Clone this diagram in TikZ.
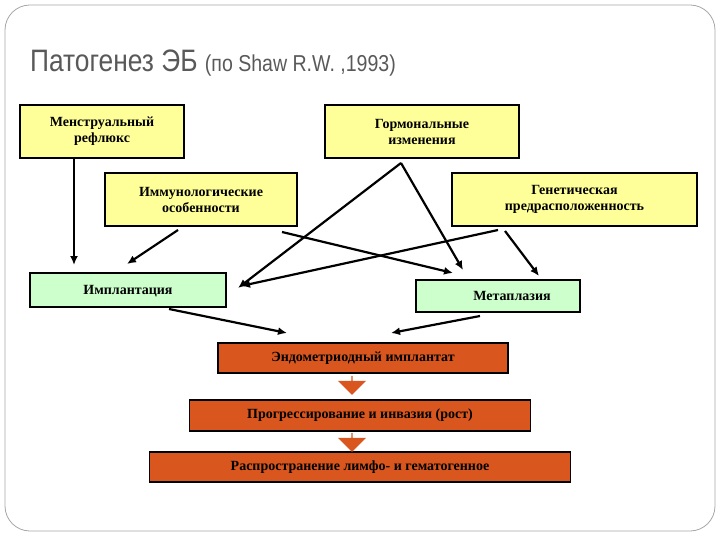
\documentclass[tikz,border=0pt]{standalone}
\usepackage{fontspec}
\setmainfont{Liberation Serif}
\newfontfamily\titlefont[FakeStretch=0.85]{Liberation Sans}
\usetikzlibrary{shapes.arrows,arrows.meta}
\definecolor{yel}{HTML}{FFFF99}
\definecolor{grn}{HTML}{CCFFCC}
\definecolor{org}{HTML}{D9561E}
\definecolor{ttl}{HTML}{595959}
\begin{document}
\begin{tikzpicture}[x=1pt,y=-1pt,
  box/.style={draw=black,line width=1.4pt,font=\bfseries\fontsize{14}{16}\selectfont,align=center,inner sep=0pt},
  ybox/.style={box,fill=yel},
  gbox/.style={box,fill=grn},
  obox/.style={box,fill=org},
  arr/.style={-{Latex[length=9pt,width=8pt]},line width=2.2pt},
  blk/.style={single arrow,draw=none,fill=org,shape border rotate=270,minimum height=19pt,minimum width=28pt,single arrow head extend=4pt,inner sep=0pt}]
\useasboundingbox (0,0) rectangle (720,540);
\draw[gray!70,line width=0.8pt,rounded corners=25pt] (5,5) rectangle (715,531);
\node[anchor=base west,text=ttl,inner sep=0pt] (title) at (30,72) {\titlefont\fontsize{31}{34}\selectfont Патогенез ЭБ \fontsize{23}{26}\selectfont(по Shaw R.W. ,1993)};
\node[ybox,minimum width=164pt,minimum height=53pt] (m) at (102,131.5) {Менструальный\\рефлюкс};
\node[ybox,minimum width=194pt,minimum height=53pt] (g) at (422,131.5) {Гормональные\\изменения};
\node[ybox,minimum width=192pt,minimum height=53pt] (i) at (201,199.5) {Иммунологические\\особенности};
\node[ybox,minimum width=245pt,minimum height=53pt] (ge) at (574.5,199.5) {Генетическая\\предрасположенность};
\node[gbox,minimum width=196pt,minimum height=34pt] (im) at (128,290) {};
\node[font=\bfseries\fontsize{14}{16}\selectfont] (imt) at (128,291) {Имплантация};
\node[gbox,minimum width=164pt,minimum height=32pt] (mt) at (498,296) {};
\node[font=\bfseries\fontsize{14}{16}\selectfont] (mtt) at (512,296) {Метаплазия};
\node[obox,minimum width=290pt,minimum height=30pt] (e) at (363,358) {Эндометриодный имплантат};
\node[obox,minimum width=341pt,minimum height=31pt] (p) at (360,415.5) {Прогрессирование и инвазия (рост)};
\node[obox,minimum width=421pt,minimum height=30pt] (r) at (360,467) {Распространение лимфо- и гематогенное};
\node[blk] (b1) at (352,385) {};
\node[blk] (b2) at (352,442) {};
\coordinate (ga) at (401,163);
\coordinate (e1) at (287,333);
\coordinate (e2) at (391,333);
\draw[arr] (m.south -| 74,0) -- (74,265);
\draw[arr] (178,230) -- (127,264);
\draw[arr] (282,232) -- (453,273);
\draw[arr] (ga) -- (238,288);
\draw[arr] (ga) -- (463,270);
\draw[arr] (498,230) -- (241,286);
\draw[arr] (505,231) -- (539,276);
\draw[arr] (169,309) -- (e1);
\draw[arr] (480,316) -- (e2);
\end{tikzpicture}
\end{document}
